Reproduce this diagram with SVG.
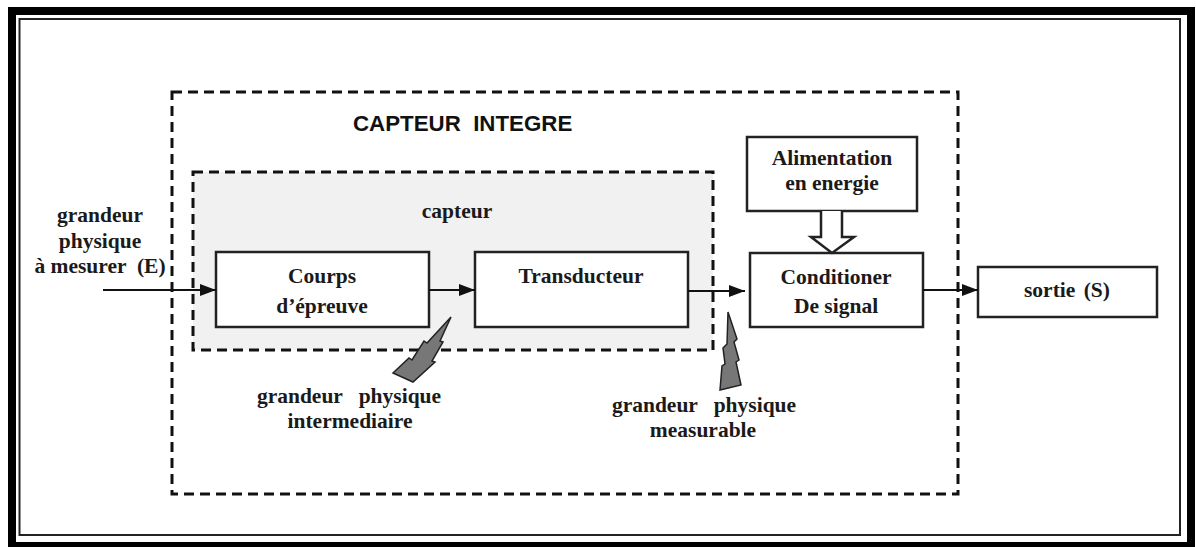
<svg xmlns="http://www.w3.org/2000/svg" width="1196" height="547" viewBox="0 0 1196 547">
<style>
.box{fill:#fff;stroke:#222;stroke-width:2.5}
.dash{stroke:#111;stroke-width:3;stroke-dasharray:10 6}
.t{font-family:"Liberation Serif","Times New Roman",serif;font-weight:bold;font-size:21.5px;fill:#1a1a1a;text-anchor:middle}
.s{font-family:"Liberation Sans",Arial,sans-serif;font-weight:bold;font-size:22.3px;fill:#111}
.ln{stroke:#111;stroke-width:2;fill:none}
.bolt{fill:#777;stroke:#222;stroke-width:1.5;stroke-linejoin:miter}
</style>
<defs>
<marker id="ah" markerWidth="16" markerHeight="12" refX="16" refY="6" orient="auto" markerUnits="userSpaceOnUse">
<path d="M0,0 L16,6 L0,12 Z" fill="#111"/>
</marker>
</defs>
<rect x="0" y="0" width="1196" height="547" fill="#fff"/>
<g id="frame">
<rect x="12" y="11" width="1179" height="535" fill="none" stroke="#000" stroke-width="8"/>
<rect x="19.5" y="19" width="1160.5" height="516" fill="none" stroke="#222" stroke-width="2"/>
</g>
<g id="capteur-integre">
<rect x="172" y="92" width="786" height="402" fill="none" class="dash"/>
<text class="s" x="353" y="131" xml:space="preserve">CAPTEUR  INTEGRE</text>
</g>
<g id="capteur">
<rect x="193" y="172" width="520" height="178" fill="#f1f1f1" class="dash"/>
<text class="t" x="457" y="218">capteur</text>
</g>
<g id="corps">
<rect class="box" x="216" y="252" width="213" height="75"/>
<text class="t" x="322" y="283">Courps</text>
<text class="t" x="322" y="313">d’épreuve</text>
</g>
<g id="transducteur">
<rect class="box" x="475" y="252" width="213" height="75"/>
<text class="t" x="581" y="283">Transducteur</text>
</g>
<g id="alimentation">
<rect class="box" x="747" y="137" width="170" height="74"/>
<text class="t" x="832" y="165">Alimentation</text>
<text class="t" x="832" y="190">en energie</text>
</g>
<g id="conditioner">
<rect class="box" x="750" y="253" width="173" height="74"/>
<text class="t" x="836" y="284">Conditioner</text>
<text class="t" x="836" y="313">De signal</text>
</g>
<g id="sortie">
<rect class="box" x="978" y="267" width="179" height="50"/>
<text class="t" x="1067" y="297" word-spacing="3">sortie (S)</text>
</g>
<g id="input-label">
<text class="t" x="100" y="222">grandeur</text>
<text class="t" x="100" y="248">physique</text>
<text class="t" x="100" y="273" xml:space="preserve">à mesurer  (E)</text>
</g>
<g id="intermediaire">
<polygon class="bolt" points="451,317 440,341 443,342 432,361 435,362 413,382 393,373 409,358 412,360 424,341 427,343"/>
<text class="t" x="349" y="403" xml:space="preserve">grandeur   physique</text>
<text class="t" x="350" y="428">intermediaire</text>
</g>
<g id="measurable">
<polygon class="bolt" points="728,312 737,339 734,342 739,360 736,362 741,385 720,390 722,366 725,364 723,348 727,344"/>
<text class="t" x="704" y="412" xml:space="preserve">grandeur   physique</text>
<text class="t" x="703" y="437">measurable</text>
</g>
<g id="connectors">
<line class="ln" x1="103" y1="290" x2="216" y2="290" marker-end="url(#ah)"/>
<line class="ln" x1="429" y1="290" x2="475" y2="290" marker-end="url(#ah)"/>
<line class="ln" x1="688" y1="291" x2="745" y2="291" marker-end="url(#ah)"/>
<line class="ln" x1="923" y1="290" x2="978" y2="290" marker-end="url(#ah)"/>
<path d="M821,211 L821,237 L811,237 L832,253 L854,237 L842,237 L842,211" fill="#fff" stroke="#222" stroke-width="2.5" stroke-linejoin="miter"/>
</g>
</svg>
